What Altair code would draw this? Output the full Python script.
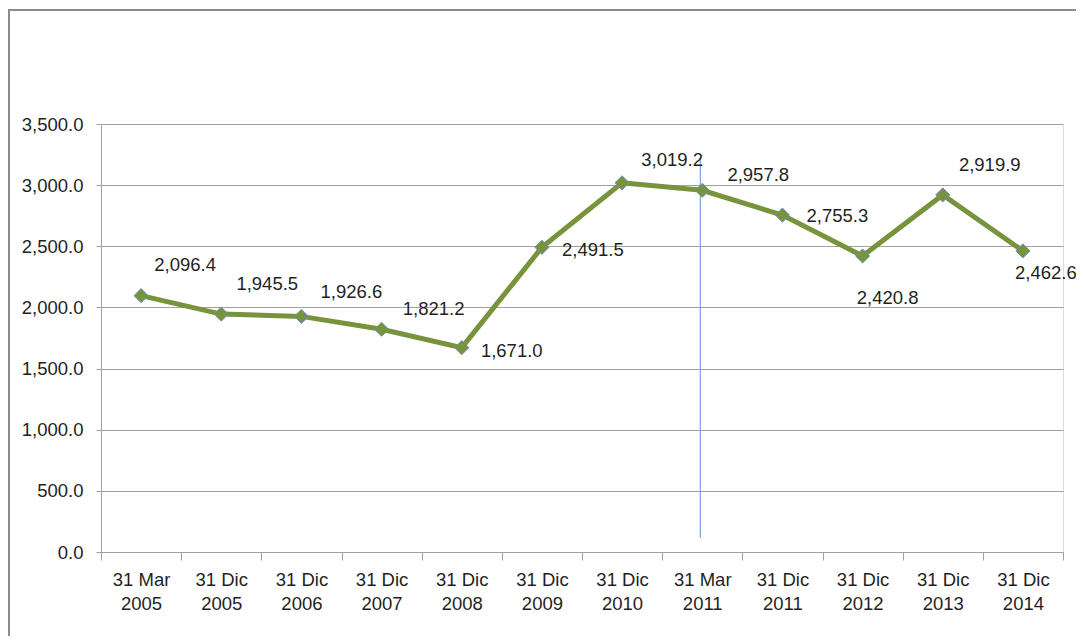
import altair as alt
import pandas as pd

categories = ["31 Mar 2005", "31 Dic 2005", "31 Dic 2006", "31 Dic 2007",
              "31 Dic 2008", "31 Dic 2009", "31 Dic 2010", "31 Mar 2011",
              "31 Dic 2011", "31 Dic 2012", "31 Dic 2013", "31 Dic 2014"]
values = [2096.4, 1945.5, 1926.6, 1821.2, 1671.0, 2491.5,
          3019.2, 2957.8, 2755.3, 2420.8, 2919.9, 2462.6]
y_ticks = [0, 500, 1000, 1500, 2000, 2500, 3000, 3500]

# label offsets (pixels) relative to each point, as placed in the original
label_dx = [44, 46, 50, 52, 50, 51, 50, 56, 55, 25, 47, 23]
label_dy = [-31, -30, -24, -20, 3, 3, -23, -15, 1, 42, -30, 22]

# thin blue marker line near "31 Mar 2011" (data units)
marker_cat = ["31 Mar 2011"]
marker_low = [115]
marker_high = [3230]

FONT = "Liberation Sans"
TXT = "#1f1f1f"
GRID = "#a0a0a0"
GREEN = "#77933C"
FS = 18.5

df = pd.DataFrame({"cat": categories, "value": values})

x_axis = alt.Axis(
    title=None, labelAngle=0, tickBand="extent", tickSize=8, grid=False,
    domainColor=GRID, tickColor=GRID, labelColor=TXT, labelFont=FONT,
    labelFontSize=FS, labelLineHeight=24, labelPadding=10,
    labelExpr="[slice(datum.label, 0, 6), slice(datum.label, 7)]",
)
y_axis = alt.Axis(
    title=None, values=y_ticks, format=",.1f", tickSize=5, labelPadding=13,
    domainColor=GRID, tickColor=GRID, gridColor=GRID, gridWidth=1.2,
    labelColor=TXT, labelFont=FONT, labelFontSize=FS,
)
x_scale = alt.Scale(type="band", domain=categories, paddingInner=0, paddingOuter=0)
y_scale = alt.Scale(domain=[0, 3500], nice=False)

x_enc = alt.X("cat:N", sort=categories, scale=x_scale, axis=x_axis, bandPosition=0.5)

base = alt.Chart(df)

line = base.mark_line(color=GREEN, strokeWidth=5).encode(
    x=x_enc, y=alt.Y("value:Q", scale=y_scale, axis=y_axis)
)
points = base.mark_point(shape="diamond", size=200, filled=True, fill=GREEN,
                         stroke="#6b8fc4", strokeWidth=1, opacity=1).encode(
    x=x_enc, y=alt.Y("value:Q", scale=y_scale, axis=y_axis)
)

labels = []
for i in range(len(categories)):
    labels.append(
        alt.Chart(df.iloc[[i]]).mark_text(
            dx=label_dx[i], dy=label_dy[i], font=FONT, fontSize=FS, color=TXT
        ).encode(
            x=x_enc,
            y=alt.Y("value:Q", scale=y_scale, axis=y_axis),
            text=alt.Text("value:Q", format=",.1f"),
        )
    )

mdf = pd.DataFrame({"cat": marker_cat, "lo": marker_low, "hi": marker_high})
marker = alt.Chart(mdf).mark_rule(color="#5f95d8", strokeWidth=1, xOffset=-2).encode(
    x=x_enc,
    y=alt.Y("lo:Q", scale=y_scale, axis=y_axis),
    y2="hi:Q",
)

fdf = pd.DataFrame({"k": [0]})
frame_top = alt.Chart(fdf).mark_rule(color="#8c8c8c", strokeWidth=2).encode(
    x=alt.value(-93), x2=alt.value(990), y=alt.value(-114), y2=alt.value(-114)
)
frame_left = alt.Chart(fdf).mark_rule(color="#8c8c8c", strokeWidth=2).encode(
    x=alt.value(-92), x2=alt.value(-92), y=alt.value(-115), y2=alt.value(530)
)

chart = alt.layer(frame_top, frame_left, line, marker, points, *labels).properties(
    width=962, height=428,
    autosize=alt.AutoSizeParams(type="none"),
    padding={"left": 93, "top": 116, "right": 13, "bottom": 84},
    background="white",
).configure_view(stroke=None).configure(font=FONT)

chart.save("out.html", embed_options={"renderer": "svg", "actions": False})
